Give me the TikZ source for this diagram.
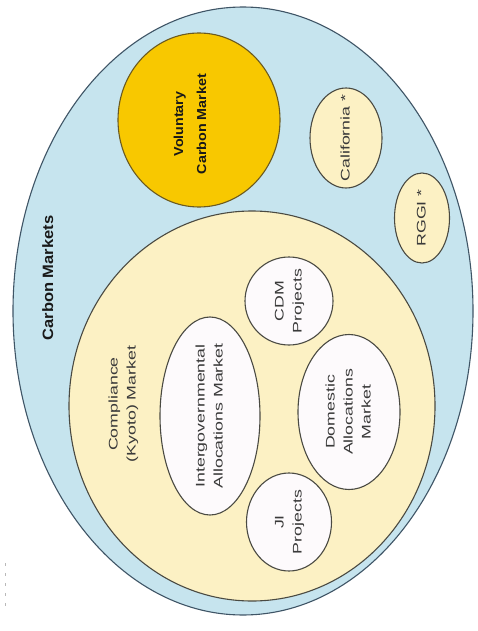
\documentclass[tikz,border=0pt]{standalone}
\usepackage{fontspec}
\setmainfont{Liberation Sans}
\usepackage{graphicx}
\usetikzlibrary{shapes.geometric}
\definecolor{outerfill}{HTML}{C6E4EE}
\definecolor{outerline}{HTML}{3F5566}
\definecolor{compfill}{HTML}{FCF1C4}
\definecolor{volfill}{HTML}{F8C800}
\definecolor{volline}{HTML}{6B5A20}
\definecolor{innerfill}{HTML}{FDFAFC}
\definecolor{bubline}{HTML}{4A4A42}
\definecolor{txtcol}{HTML}{3A3A3A}
\newcommand{\stxt}[2]{\scalebox{#1}[1]{\begin{tabular}{@{}c@{}}#2\end{tabular}}}
\tikzset{
  bub/.style={ellipse, draw=bubline, line width=1.1pt, inner sep=0pt, outer sep=0pt},
  whitebub/.style={bub, fill=innerfill},
  creambub/.style={bub, fill=compfill},
  txt/.style={rotate=90, inner sep=0pt, text=txtcol, font=\fontsize{12.5}{18}\selectfont},
  bold/.style={rotate=90, inner sep=0pt, text=black!90, font=\bfseries\fontsize{15}{20}\selectfont}
}
\begin{document}
\begin{tikzpicture}[x=1pt,y=-1pt]
\useasboundingbox[fill=white] (0,0) rectangle (478,631);
% outer
\node[bub, fill=outerfill, draw=outerline, minimum width=460, minimum height=608] (carbon) at (243,311) {};
\node[bold] (carbontxt) at (49,278) {\stxt{1.1}{Carbon Markets}};
% compliance
\node[creambub, minimum width=366, minimum height=390] (comp) at (252,406) {};
\node[txt] (comptxt) at (123,404) {\stxt{1.42}{Compliance\\(Kyoto) Market}};
% voluntary
\node[bub, fill=volfill, draw=volline, minimum width=162, minimum height=174] (vol) at (199,120) {};
\node[bold, font=\bfseries\fontsize{13}{23}\selectfont] (voltxt) at (190,124) {\stxt{1.1}{Voluntary\\Carbon Market}};
% california, rggi
\node[creambub, minimum width=72, minimum height=100] (cal) at (346,138) {};
\node[txt] at (cal) {\stxt{1.42}{California *}};
\node[creambub, minimum width=55, minimum height=90] (rggi) at (422,218) {};
\node[txt] at (rggi) {\stxt{1.42}{RGGI *}};
% inner bubbles
\node[whitebub, minimum width=100, minimum height=198] (igov) at (210,416) {};
\node[txt] at (igov) {\stxt{1.42}{Intergovernmental\\Allocations Market}};
\node[whitebub, minimum width=88, minimum height=88] (cdm) at (289,301) {};
\node[txt] at (cdm) {\stxt{1.42}{CDM\\Projects}};
\node[whitebub, minimum width=102, minimum height=155] (dom) at (349,412) {};
\node[txt] at (dom) {\stxt{1.42}{Domestic\\Allocations\\Market}};
\node[whitebub, minimum width=85, minimum height=98] (ji) at (289,522) {};
\node[txt] at (ji) {\stxt{1.42}{JI\\Projects}};
% faint margin marks
\draw[gray!55, line width=0.8pt, dash pattern=on 3pt off 7pt] (5,563) -- (5,610);
\end{tikzpicture}
\end{document}
